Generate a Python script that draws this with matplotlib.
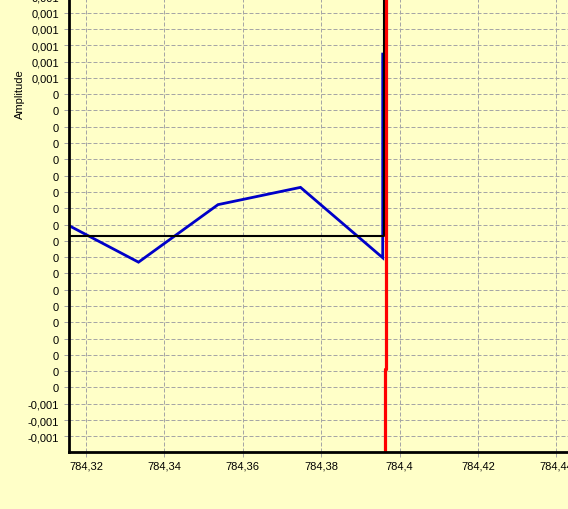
import numpy as np
import matplotlib
matplotlib.use("Agg")
import matplotlib.pyplot as plt
from matplotlib.ticker import MultipleLocator, FuncFormatter

# ---- data ----
blue_x = [784.3156, 784.33339, 784.35367, 784.37472, 784.39569, 784.39569]
blue_y = [4.7e-5, -6.55e-5, 1.11e-4, 1.64e-4, -5.2e-5, 5.73e-4]

black_x = [784.3150, 784.39602, 784.39602]
black_y = [1.6e-5, 1.6e-5, 0.0010]

red_x = [784.39658, 784.39658, 784.39633, 784.39633]
red_y = [0.0010, -3.93e-4, -3.93e-4, -0.0010]

x_min, x_max = 784.31566, 784.44296
y_min, y_max = -0.000648, 0.00080
x_step = 0.02
y_step = 0.00005
y_label = "Amplitude"

# ---- style ----
W, H, DPI = 568, 510, 100
bg = "#ffffc8"
grid_c = "#a6a6a6"
plt.rcParams["font.family"] = ["Liberation Sans", "DejaVu Sans"]
plt.rcParams["font.size"] = 8

px_per_unit = 453 / 0.00139
ax_h_px = (y_max - y_min) * px_per_unit

fig = plt.figure(figsize=(W / DPI, H / DPI), dpi=DPI, facecolor=bg)
ax = fig.add_axes([69 / W, (H - 453) / H, 1 - 69 / W, ax_h_px / H])
ax.set_facecolor(bg)

ax.set_xlim(x_min, x_max)
ax.set_ylim(y_min, y_max)


def fmt_dec(v, nd):
    s = f"{abs(v):.{nd}f}".rstrip("0").rstrip(".")
    if s == "0" or s == "":
        return "0"
    s = s.replace(".", ",")
    return ("-" if v < 0 else "") + s


def yfmt(v, pos):
    k = round(v / 1e-5)  # value in units of 1e-5
    r = int(np.floor(abs(k) / 100 + 0.5)) * (1 if k >= 0 else -1)
    return fmt_dec(r * 0.001, 3)


def xfmt(v, pos):
    return fmt_dec(round(v, 2), 2)


ax.xaxis.set_major_locator(MultipleLocator(x_step))
ax.yaxis.set_major_locator(MultipleLocator(y_step))
ax.xaxis.set_major_formatter(FuncFormatter(xfmt))
ax.yaxis.set_major_formatter(FuncFormatter(yfmt))

ax.grid(True, color=grid_c, linestyle=(0, (4, 2)), linewidth=0.72)
ax.set_axisbelow(True)

for s in ["top", "right"]:
    ax.spines[s].set_visible(False)
for s in ["left", "bottom"]:
    ax.spines[s].set_linewidth(2.0)
    ax.spines[s].set_color("black")
    ax.spines[s].set_zorder(5)

ax.tick_params(axis="both", direction="out", length=3.6, width=0.72,
               color=grid_c, labelsize=8, labelcolor="black")
ax.tick_params(axis="y", pad=3.6)
ax.tick_params(axis="x", pad=2.5)

ax.plot(blue_x, blue_y, color="#0000c8", linewidth=2.0, solid_joinstyle="miter", zorder=3)
ax.plot(black_x, black_y, color="black", linewidth=1.5, zorder=3)
ax.plot(red_x, red_y, color="#ff0000", linewidth=2.3, zorder=4)

fig.text(19.5 / W, 1 - 94.5 / H, y_label, rotation=90, ha="center", va="center", fontsize=8)

fig.savefig("out.png", dpi=DPI, facecolor=bg)
